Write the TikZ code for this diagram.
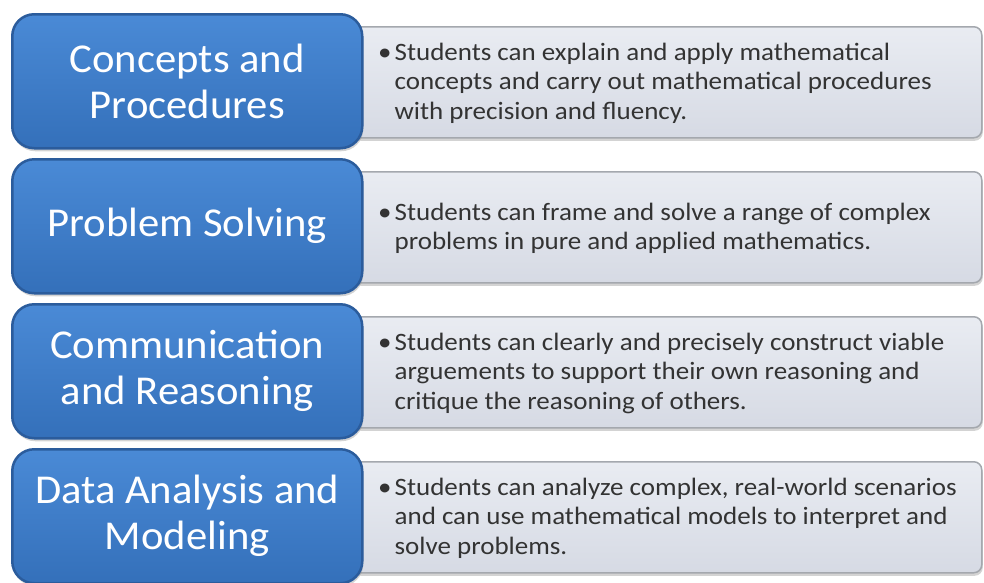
\documentclass[tikz,border=0pt]{standalone}
\usepackage{fontspec}
\setmainfont{Carlito}
\newfontfamily\titlefont[FakeStretch=1.04]{Carlito}
\newfontfamily\descfont[FakeStretch=1.08]{Carlito}
\usetikzlibrary{shadows}
\definecolor{bluetop}{HTML}{4A8AD6}
\definecolor{bluebot}{HTML}{3470BA}
\definecolor{blueedge}{HTML}{2B5C9C}
\definecolor{graytop}{HTML}{E9ECF2}
\definecolor{graybot}{HTML}{D6DAE4}
\definecolor{grayedge}{HTML}{A4A8AE}
\definecolor{desctext}{HTML}{333333}
\begin{document}
\begin{tikzpicture}[x=1pt,y=-1pt]
\useasboundingbox (0,0) rectangle (984,582);
\tikzset{
  bluebox/.style={rounded corners=22pt, draw=blueedge, line width=2.5pt,
    top color=bluetop, bottom color=bluebot,
    minimum width=350pt, minimum height=134pt, anchor=north west,
    drop shadow={shadow xshift=1pt, shadow yshift=-3pt, opacity=0.35}},
  graybox/.style={rounded corners=8pt, draw=grayedge, line width=1.5pt,
    top color=graytop, bottom color=graybot,
    minimum width=630pt, minimum height=111pt, anchor=north west,
    drop shadow={shadow xshift=1pt, shadow yshift=-3pt, opacity=0.35}},
  titletext/.style={text=white, font=\titlefont\fontsize{41}{46}\selectfont, align=center},
  desctext/.style={text=desctext, font=\descfont\fontsize{25}{29.5}\selectfont, anchor=west, inner sep=0pt},
}
\newcommand{\desc}[1]{\begin{tabular}{@{}l@{\hspace{3pt}}l@{}}\textbullet & #1\end{tabular}}
% gray description boxes
\foreach \i in {0,1,2,3}{
  \node[graybox] (g\i) at (351, 26+145*\i) {};
}
% blue title boxes
\foreach \i in {0,1,2,3}{
  \node[bluebox] (b\i) at (11, 13+145*\i) {};
}
\node[titletext] (t0) at (b0.center) {Concepts and\\Procedures};
\node[titletext] (t1) at (b1.center) {Problem Solving};
\node[titletext] (t2) at (b2.center) {Communication\\and Reasoning};
\node[titletext] (t3) at (b3.center) {Data Analysis and\\Modeling};
\node[desctext] (d0) at (378, 84) {\desc{Students can explain and apply mathematical\\ & concepts and carry out mathematical procedures\\ & with precision and fluency.}};
\node[desctext] (d1) at (378, 229) {\desc{Students can frame and solve a range of complex\\ & problems in pure and applied mathematics.}};
\node[desctext] (d2) at (378, 374) {\desc{Students can clearly and precisely construct viable\\ & arguements to support their own reasoning and\\ & critique the reasoning of others.}};
\node[desctext] (d3) at (378, 519) {\desc{Students can analyze complex, real-world scenarios\\ & and can use mathematical models to interpret and\\ & solve problems.}};
\end{tikzpicture}
\end{document}
